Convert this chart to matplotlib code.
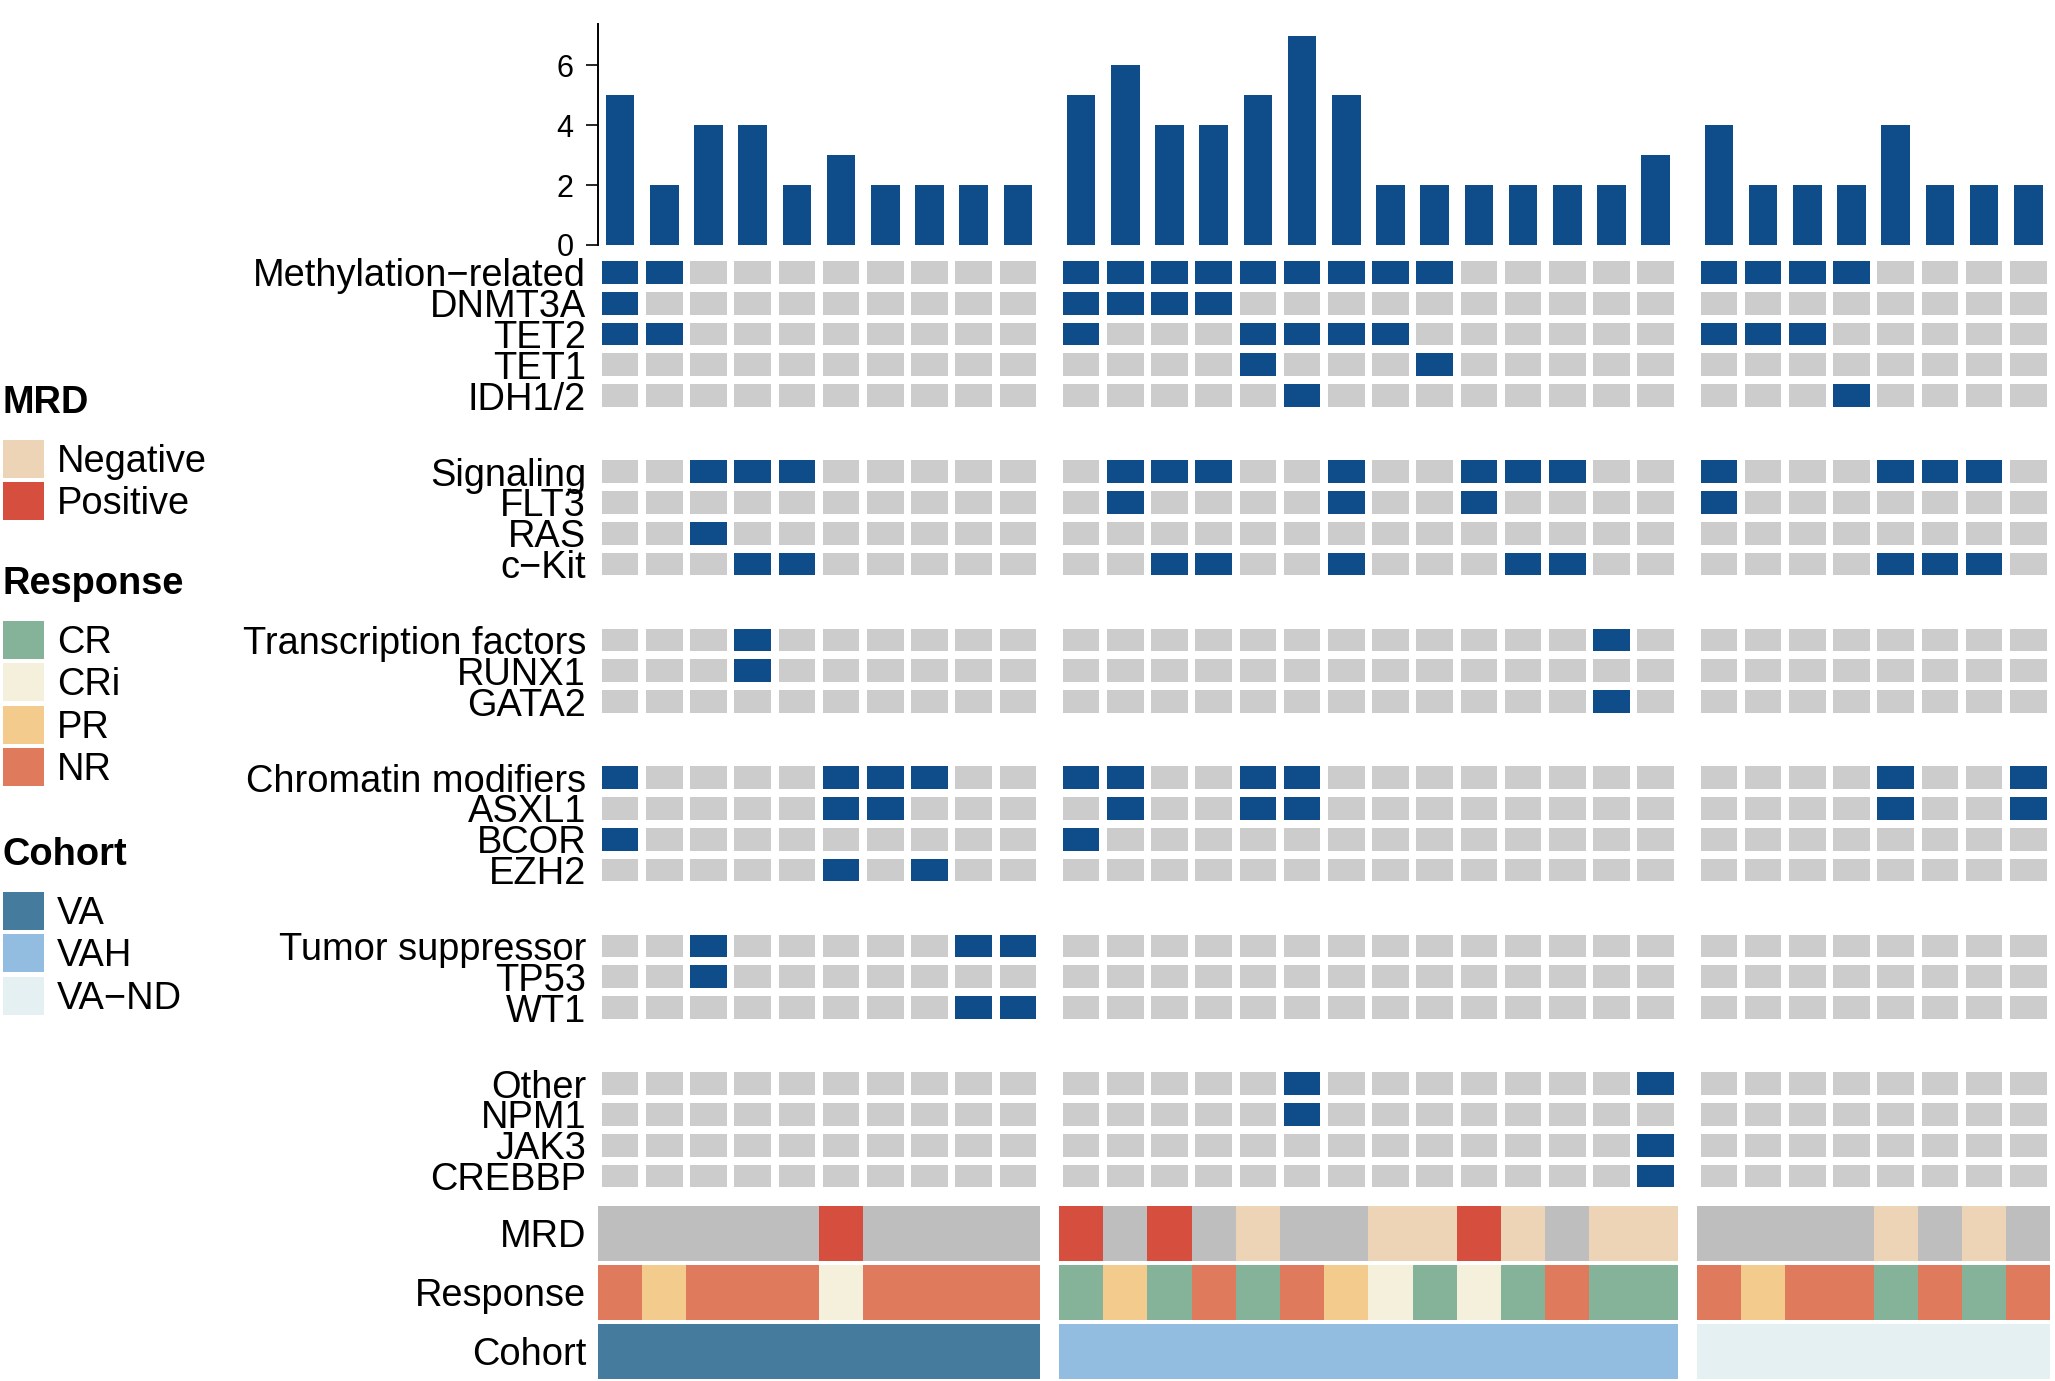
import matplotlib.pyplot as plt
from matplotlib.patches import Rectangle, Patch

plt.rcParams['font.family'] = ['Liberation Sans', 'DejaVu Sans']

# ---- values ----
cohort_names = ['VA', 'VAH', 'VA−ND']
cohort_sizes = [10, 14, 8]

# alterations per patient (top bar plot)
bars_va = [5, 2, 4, 4, 2, 3, 2, 2, 2, 2]
bars_vah = [5, 6, 4, 4, 5, 7, 5, 2, 2, 2, 2, 2, 2, 3]
bars_vand = [4, 2, 2, 2, 4, 2, 2, 2]

row_groups = [
    ['Methylation−related', 'DNMT3A', 'TET2', 'TET1', 'IDH1/2'],
    ['Signaling', 'FLT3', 'RAS', 'c−Kit'],
    ['Transcription factors', 'RUNX1', 'GATA2'],
    ['Chromatin modifiers', 'ASXL1', 'BCOR', 'EZH2'],
    ['Tumor suppressor', 'TP53', 'WT1'],
    ['Other', 'NPM1', 'JAK3', 'CREBBP'],
]

# 1 = altered, patients ordered VA | VAH | VA-ND
mut_rows = {
    'Methylation−related':   '1100000000|11111111100000|11110000',
    'DNMT3A':                '1000000000|11110000000000|00000000',
    'TET2':                  '1100000000|10001111000000|11100000',
    'TET1':                  '0000000000|00001000100000|00000000',
    'IDH1/2':                '0000000000|00000100000000|00010000',
    'Signaling':             '0011100000|01110010011100|10001110',
    'FLT3':                  '0000000000|01000010010000|10000000',
    'RAS':                   '0010000000|00000000000000|00000000',
    'c−Kit':                 '0001100000|00110010001100|00001110',
    'Transcription factors': '0001000000|00000000000010|00000000',
    'RUNX1':                 '0001000000|00000000000000|00000000',
    'GATA2':                 '0000000000|00000000000010|00000000',
    'Chromatin modifiers':   '1000011100|11001100000000|00001001',
    'ASXL1':                 '0000011000|01001100000000|00001001',
    'BCOR':                  '1000000000|10000000000000|00000000',
    'EZH2':                  '0000010100|00000000000000|00000000',
    'Tumor suppressor':      '0010000011|00000000000000|00000000',
    'TP53':                  '0010000000|00000000000000|00000000',
    'WT1':                   '0000000011|00000000000000|00000000',
    'Other':                 '0000000000|00000100000001|00000000',
    'NPM1':                  '0000000000|00000100000000|00000000',
    'JAK3':                  '0000000000|00000000000001|00000000',
    'CREBBP':                '0000000000|00000000000001|00000000',
}

mrd_va = ['NA'] * 5 + ['Positive'] + ['NA'] * 4
mrd_vah = ['Positive', 'NA', 'Positive', 'NA', 'Negative', 'NA', 'NA',
           'Negative', 'Negative', 'Positive', 'Negative', 'NA', 'Negative', 'Negative']
mrd_vand = ['NA', 'NA', 'NA', 'NA', 'Negative', 'NA', 'Negative', 'NA']

resp_va = ['NR', 'PR', 'NR', 'NR', 'NR', 'CRi', 'NR', 'NR', 'NR', 'NR']
resp_vah = ['CR', 'PR', 'CR', 'NR', 'CR', 'NR', 'PR', 'CRi', 'CR', 'CRi', 'CR', 'NR', 'CR', 'CR']
resp_vand = ['NR', 'PR', 'NR', 'NR', 'CR', 'NR', 'CR', 'NR']

# ---- colours ----
mut_col, wt_col = '#0F4C8A', '#CCCCCC'
mrd_cols = {'Negative': '#EED4B6', 'Positive': '#D54E3E', 'NA': '#BEBEBE'}
resp_cols = {'CR': '#84B39A', 'CRi': '#F5F0DC', 'PR': '#F2CB8D', 'NR': '#DF7A5D'}
cohort_cols = {'VA': '#457B9D', 'VAH': '#92BDE0', 'VA−ND': '#E4F0F2'}

counts = bars_va + bars_vah + bars_vand
mrd = mrd_va + mrd_vah + mrd_vand
resp = resp_va + resp_vah + resp_vand
cohort = [c for c, n in zip(cohort_names, cohort_sizes) for _ in range(n)]

# ---- layout (pixels) ----
W, H = 2055, 1381
fig = plt.figure(figsize=(W / 100, H / 100), dpi=100)
FS = 27.4


def px_axes(left, top, width, height):
    return fig.add_axes([left / W, 1 - (top + height) / H, width / W, height / H])


col_w, col_gap = 44.2, 19
row_h, row_gap = 30.8, 45.2
x_left = 598
gap_u = col_gap / col_w
span_u = sum(cohort_sizes) + gap_u * (len(cohort_sizes) - 1)
hm_w = span_u * col_w

col_x = []
for g, n in enumerate(cohort_sizes):
    start = sum(cohort_sizes[:g]) + g * gap_u
    col_x += [start + j for j in range(n)]

# top bar plot
ax_bar = px_axes(x_left, 23.6, hm_w, 221.4)
ax_bar.bar([x + 0.5 for x in col_x], counts, width=0.65, color=mut_col, linewidth=0)
ax_bar.set_xlim(0, span_u)
ax_bar.set_ylim(0, 7.4)
ax_bar.set_yticks([0, 2, 4, 6])
ax_bar.set_xticks([])
for s in ['top', 'right', 'bottom']:
    ax_bar.spines[s].set_visible(False)
ax_bar.spines['left'].set_linewidth(1.4)
ax_bar.tick_params(axis='y', labelsize=22, length=8.5, width=1.2, pad=9)

# mutation grid
rgap_u = row_gap / row_h
n_rows = sum(len(g) for g in row_groups)
total_u = n_rows + rgap_u * (len(row_groups) - 1)
ax_hm = px_axes(x_left, 257, hm_w, total_u * row_h)
ins_x, ins_y = 0.085, 0.127
ytick_pos, ytick_lab = [], []
r = 0
for k, group in enumerate(row_groups):
    for name in group:
        y = r + k * rgap_u
        flags = mut_rows[name].replace('|', '')
        for x, f in zip(col_x, flags):
            ax_hm.add_patch(Rectangle((x + ins_x, y + ins_y), 1 - 2 * ins_x, 1 - 2 * ins_y,
                                      facecolor=mut_col if f == '1' else wt_col, linewidth=0))
        ytick_pos.append(y + 0.5)
        ytick_lab.append(name)
        r += 1
ax_hm.set_xlim(0, span_u)
ax_hm.set_ylim(total_u, 0)
ax_hm.set_xticks([])
ax_hm.set_yticks(ytick_pos)
ax_hm.set_yticklabels(ytick_lab)
ax_hm.tick_params(axis='y', length=0, pad=8.6, labelsize=FS)
for s in ax_hm.spines.values():
    s.set_visible(False)

# annotation tracks
tracks = [('MRD', mrd, mrd_cols, 1205.5),
          ('Response', resp, resp_cols, 1264.5),
          ('Cohort', cohort, cohort_cols, 1323.5)]
for label, vals, cmap, top in tracks:
    ax = px_axes(x_left, top, hm_w, 55.5)
    ax.bar(col_x, [1] * len(col_x), width=1.0, align='edge',
           color=[cmap[v] for v in vals], linewidth=0)
    ax.set_xlim(0, span_u)
    ax.set_ylim(0, 1)
    ax.set_xticks([])
    ax.set_yticks([0.5])
    ax.set_yticklabels([label])
    ax.tick_params(axis='y', length=0, pad=8.6, labelsize=FS)
    for s in ax.spines.values():
        s.set_visible(False)

# legends
legend_specs = [('MRD', ['Negative', 'Positive'], mrd_cols, 385),
                ('Response', ['CR', 'CRi', 'PR', 'NR'], resp_cols, 566),
                ('Cohort', cohort_names, cohort_cols, 837)]
for title, labs, cmap, top in legend_specs:
    handles = [Patch(facecolor=cmap[l], edgecolor='none') for l in labs]
    leg = fig.legend(handles, labs, title=title, loc='upper left',
                     bbox_to_anchor=(2.6 / W, 1 - top / H), frameon=False,
                     fontsize=FS, title_fontproperties={'weight': 'bold', 'size': FS},
                     alignment='left', handlelength=1.08, handleheight=1.16,
                     handletextpad=0.34, labelspacing=0.07, borderpad=0, borderaxespad=0)
    leg._legend_box.sep = 13.5

fig.savefig('out.png', dpi=100)
